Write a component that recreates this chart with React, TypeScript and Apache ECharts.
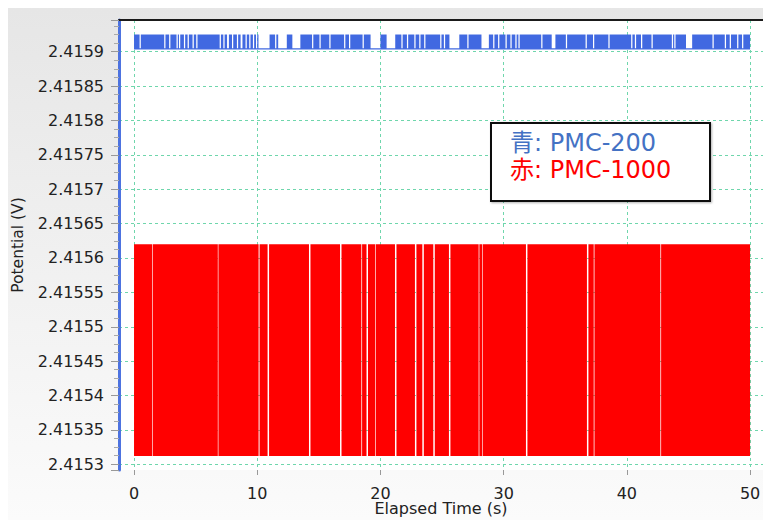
import React, { useEffect, useRef } from "react";
import * as echarts from "echarts";

// ---- data ----
const xTickLabels = [0, 10, 20, 30, 40, 50];
const timeRange = [0, 50]; // seconds covered by both records
const blueLevels = [2.415904, 2.415925]; // PMC-200: low, high quantisation levels (V)
const redLevels = [2.415312, 2.41562]; // PMC-1000: low, high quantisation levels (V)

// PMC-200: stretches (s) where the reading stays at its low level
const blueGaps: number[][] = [
  [0.45, 0.55], [2.45, 2.55], [2.85, 2.95], [3.45, 3.55], [3.65, 3.75], [4.05, 4.15],
  [4.35, 4.45], [4.75, 4.85], [5.05, 5.15],
  [6.95, 7.05], [7.25, 7.35], [7.55, 7.7], [7.95, 8.05], [8.35, 8.45], [8.65, 8.8],
  [9.05, 9.15], [9.35, 9.45], [9.65, 9.75], [9.9, 10.0],
  [10.1, 11.0], [11.45, 11.55], [11.7, 12.4], [12.85, 13.5],
  [14.45, 14.55], [15.05, 15.15], [15.85, 15.95], [17.05, 17.15], [17.45, 17.55], [18.55, 18.65],
  [19.2, 20.0], [20.5, 21.2],
  [21.7, 21.8], [22.15, 22.25], [22.75, 22.85], [23.15, 23.25], [23.55, 23.65],
  [24.85, 24.95], [25.15, 25.25],
  [25.6, 26.4], [27.05, 27.15], [28.2, 28.8],
  [29.15, 29.25], [29.55, 29.65], [30.15, 30.25], [30.55, 30.65], [30.95, 31.05], [31.2, 31.3],
  [33.05, 33.15], [33.9, 34.2],
  [35.05, 35.15], [36.65, 36.75], [37.25, 37.35], [38.5, 38.6], [40.35, 40.45], [40.65, 40.75],
  [41.15, 41.25], [42.0, 42.1], [43.65, 43.75], [43.85, 43.95],
  [44.8, 45.3],
  [46.95, 47.05], [47.95, 48.05], [48.35, 48.45], [48.95, 49.05], [49.35, 49.45],
];

// PMC-1000: short stretches (s) without toggling (white lines in the red band)
const redGaps: number[][] = [
  [1.47, 1.52], [6.8, 6.85], [10.11, 10.19], [10.84, 10.96], [14.2, 14.32], [16.72, 16.84],
  [18.45, 18.51], [18.87, 18.99], [19.57, 19.62], [21.18, 21.3], [22.8, 22.92], [23.4, 23.52],
  [24.29, 24.41], [25.56, 25.68], [27.97, 28.03], [28.27, 28.32], [31.81, 31.93], [36.76, 36.88],
  [37.31, 37.37], [42.72, 42.78],
];

function bands(gaps: number[][], levels: number[]) {
  const out: number[][] = [];
  let start = timeRange[0];
  for (const g of gaps) {
    if (g[0] > start) out.push([start, g[0], levels[0], levels[1]]);
    start = g[1];
  }
  if (start < timeRange[1]) out.push([start, timeRange[1], levels[0], levels[1]]);
  return out;
}

const FONT = "DejaVu Sans";
const X_MIN = -1.22;
const X_MAX = 51.05;

function makeRender(color: string) {
  return (params: any, api: any) => {
    const p0 = api.coord([api.value(0), api.value(3)]);
    const p1 = api.coord([api.value(1), api.value(2)]);
    return {
      type: "rect",
      shape: { x: p0[0], y: p0[1], width: p1[0] - p0[0], height: p1[1] - p0[1] },
      style: { fill: color },
    };
  };
}

export default function App() {
  const ref = useRef<HTMLDivElement>(null);
  useEffect(() => {
    const prevMargin = document.body.style.margin;
    document.body.style.margin = "0";
    if (!ref.current) return;
    const chart = echarts.init(ref.current, null, { renderer: "svg" });
    const step = 0.00005;
    const gridLine = { show: true, showMinLine: false, showMaxLine: false, lineStyle: { color: "#6fd6ac", type: [3, 3], width: 1 } };
    chart.setOption({
      animation: false,
      grid: {
        left: 111,
        top: 12,
        right: 0,
        bottom: 50,
        outerBoundsMode: "none",
        containLabel: false,
        show: true,
        backgroundColor: "#ffffff",
        borderWidth: 0,
      },
      xAxis: [
        {
          type: "value",
          min: X_MIN,
          max: X_MAX,
          splitNumber: 5,
          name: "Elapsed Time (s)",
          nameLocation: "middle",
          nameGap: 30,
          nameMoveOverlap: false,
          nameTextStyle: { fontFamily: FONT, fontSize: 16, color: "#222" },
          axisLine: {
            show: true,
            onZero: false,
            lineStyle: {
              color: "#474747",
              width: 3,
              shadowColor: "rgba(0,0,0,0.35)",
              shadowBlur: 2,
              shadowOffsetY: 1,
            },
          },
          axisTick: { show: true, length: 5, lineStyle: { color: "#999" } },
          axisLabel: {
            margin: 15,
            fontFamily: FONT,
            fontSize: 16,
            color: "#222",
            showMinLabel: false,
            showMaxLabel: false,
            formatter: (v: number) => (xTickLabels.indexOf(Math.round(v * 1000) / 1000) >= 0 ? String(v) : ""),
          },
          splitLine: gridLine,
        },
        {
          type: "value",
          position: "top",
          min: X_MIN,
          max: X_MAX,
          axisLine: { show: true, onZero: false, lineStyle: { color: "#1a1a1a", width: 2 } },
          axisTick: { show: false },
          axisLabel: { show: false },
          splitLine: { show: false },
        },
      ],
      yAxis: {
        type: "value",
        min: 2.4152917,
        max: 2.4159461,
        splitNumber: 13,
        scale: true,
        name: "Potential (V)",
        nameLocation: "middle",
        nameRotate: 90,
        nameGap: 93,
        nameTextStyle: { fontFamily: FONT, fontSize: 15.5, color: "#222" },
        axisLine: { show: true, onZero: false, lineStyle: { color: "#4d73e0", width: 3 } },
        axisTick: { show: true, length: 8, lineStyle: { color: "#999" } },
        minorTick: { show: true, splitNumber: 4, length: 5, lineStyle: { color: "#aaa" } },
        axisLabel: {
          margin: 15,
          fontFamily: FONT,
          fontSize: 16,
          color: "#222",
          formatter: (v: number) => {
            const k = Math.round(v / step);
            if (Math.abs(v - k * step) > 1e-9) return "";
            return parseFloat(v.toFixed(5)).toString();
          },
        },
        splitLine: gridLine,
      },
      series: [
        {
          type: "line",
          name: "PMC-200 base",
          data: [
            [timeRange[0], blueLevels[0]],
            [timeRange[1], blueLevels[0]],
          ],
          symbol: "none",
          lineStyle: { color: "#4169e1", width: 1.2 },
          z: 2,
        },
        {
          type: "custom",
          name: "PMC-200",
          renderItem: makeRender("#4169e1"),
          encode: { x: [0, 1], y: [2, 3] },
          data: bands(blueGaps, blueLevels),
          z: 3,
        },
        {
          type: "custom",
          name: "PMC-1000",
          renderItem: makeRender("#ff0000"),
          encode: { x: [0, 1], y: [2, 3] },
          data: bands(redGaps, redLevels),
          z: 3,
        },
      ],
      graphic: [
        {
          type: "rect",
          left: 482,
          top: 114,
          shape: { width: 219, height: 78 },
          style: {
            fill: "#ffffff",
            stroke: "#111",
            lineWidth: 2,
            shadowColor: "rgba(0,0,0,0.3)",
            shadowBlur: 2,
            shadowOffsetX: 1,
            shadowOffsetY: 1,
          },
          z: 10,
        },
        {
          type: "text",
          left: 502,
          top: 123,
          style: {
            text: "青: PMC-200",
            fill: "#4472c4",
            font: `24px "${FONT}", "Noto Sans CJK JP"`,
          },
          z: 11,
        },
        {
          type: "text",
          left: 502,
          top: 150,
          style: {
            text: "赤: PMC-1000",
            fill: "#ff0000",
            font: `24px "${FONT}", "Noto Sans CJK JP"`,
          },
          z: 11,
        },
      ],
    });
    return () => {
      chart.dispose();
      document.body.style.margin = prevMargin;
    };
  }, []);
  return (
    <div style={{ width: 763, height: 520, background: "#ffffff", paddingLeft: 8, paddingTop: 8, boxSizing: "border-box" }}>
      <div
        ref={ref}
        style={{
          width: 755,
          height: 512,
          background: "linear-gradient(#e6e6e6, #fbfbfb)",
        }}
      />
    </div>
  );
}
